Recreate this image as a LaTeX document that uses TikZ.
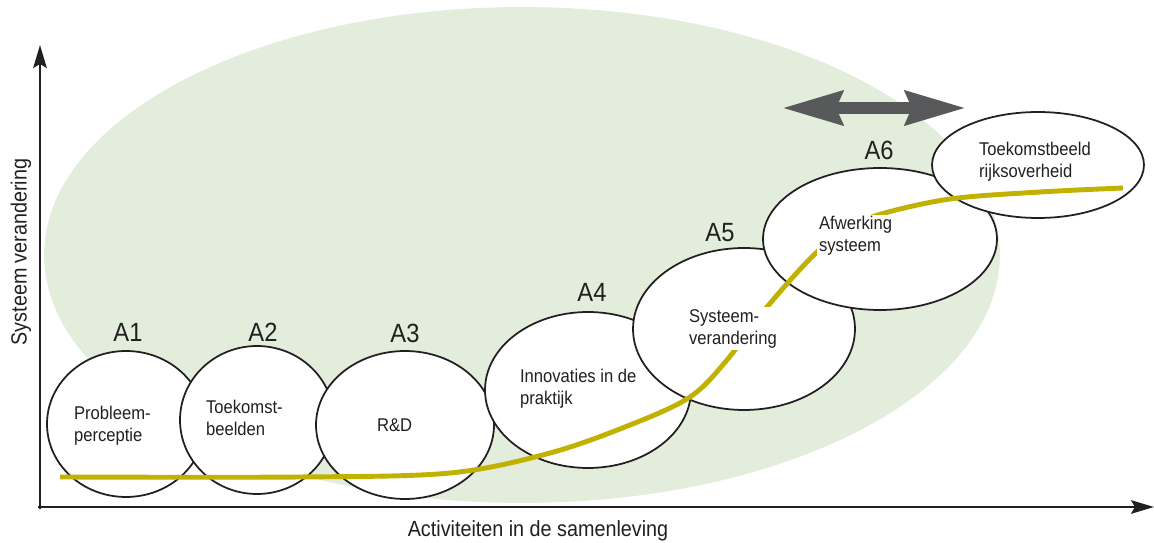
\documentclass[tikz,border=0pt]{standalone}
\usepackage{fontspec}
\setmainfont{Liberation Sans}[FakeStretch=0.9]
\usetikzlibrary{shapes.geometric,arrows.meta}

\definecolor{veld}{RGB}{226,238,219}
\definecolor{kromme}{RGB}{193,177,0}
\definecolor{inkt}{RGB}{35,31,32}
\definecolor{pijlgrijs}{RGB}{88,89,91}

\tikzset{
	fase/.style={shape=ellipse,draw=inkt,line width=1pt,fill=white,inner sep=0pt},
	fasenaam/.style={text=inkt,font=\fontsize{15}{18}\selectfont},
	fasetekst/.style={text=inkt,align=left,anchor=west,inner sep=1pt,font=\fontsize{10.5}{12.5}\selectfont},
	wit/.style={fill=white},
	as/.style={draw=inkt,line width=1.4pt,-{Stealth[length=0.46cm,width=0.27cm,inset=0.08cm]}},
	aslabel/.style={text=inkt,font=\fontsize{12.5}{14}\selectfont},
}

\begin{document}
\begin{tikzpicture}[x=0.02cm,y=-0.02cm]
	\useasboundingbox (0,0) rectangle (1154,543);

	% achtergrond
	\fill[veld] (522,255) ellipse [x radius=9.56cm, y radius=4.96cm];

	% assen
	\coordinate (oy) at (40,509);
	\coordinate (ytop) at (40,45);
	\coordinate (ox) at (38,507);
	\coordinate (xtop) at (1154,507);
	\draw[as] (oy) -- (ytop);
	\draw[as] (ox) -- (xtop);
	\node[aslabel] (xlabel) at (538,531) {Activiteiten in de samenleving};
	\node[aslabel,rotate=90] (ylabel) at (21,252) {Systeem verandering};

	% fasen
	\node[fase,minimum width=3.16cm,minimum height=2.92cm] (a1) at (126,424) {};
	\node[fase,minimum width=3.08cm,minimum height=2.96cm] (a2) at (257,420) {};
	\node[fase,minimum width=3.56cm,minimum height=2.96cm] (a3) at (405,425) {};
	\node[fase,minimum width=4.12cm,minimum height=3.12cm] (a4) at (588,390) {};
	\node[fase,minimum width=4.44cm,minimum height=3.24cm] (a5) at (744,329) {};
	\node[fase,minimum width=4.68cm,minimum height=2.84cm] (a6) at (880,239) {};
	\node[fase,minimum width=4.24cm,minimum height=2.12cm] (doel) at (1038,165) {};

	% transitiecurve
	\draw[kromme,line width=2.8pt] plot[smooth,tension=0.55] coordinates {
		(60,477) (300,477) (450,473) (550,453) (630,425) (690,397) (727,360)
		(767,307) (817,252) (850,230) (878,215) (950,199) (1040,192) (1123,188)};

	\node[fasetekst] (t1) at (72,425.5) {Probleem-\\perceptie};
	\node[fasetekst] (t2) at (204,417.5) {Toekomst-\\beelden};
	\node[fasetekst] (t3) at (375,425.5) {R\&D};
	\node[fasetekst] (t4) at (518,389) {Innovaties in de\\praktijk};
	\node[fasetekst,wit] (t5) at (687,328.5) {Systeem-\\verandering};
	\node[fasetekst,wit] (t6) at (817,236) {Afwerking\\systeem};
	\node[fasetekst] (t7) at (977,162) {Toekomstbeeld\\rijksoverheid};

	\node[fasenaam] (n1) at (128,332) {A1};
	\node[fasenaam] (n2) at (263,332) {A2};
	\node[fasenaam] (n3) at (405,333) {A3};
	\node[fasenaam] (n4) at (592,292) {A4};
	\node[fasenaam] (n5) at (720,233) {A5};
	\node[fasenaam] (n6) at (879,150) {A6};

	% dubbele pijl
	\coordinate (links) at (782,108);
	\coordinate (rechts) at (966,108);
	\draw[pijlgrijs,line width=6.8pt,{Stealth[length=1.2cm,width=0.66cm,inset=0.12cm]}-{Stealth[length=1.2cm,width=0.66cm,inset=0.12cm]}] (links) -- (rechts);
\end{tikzpicture}
\end{document}
